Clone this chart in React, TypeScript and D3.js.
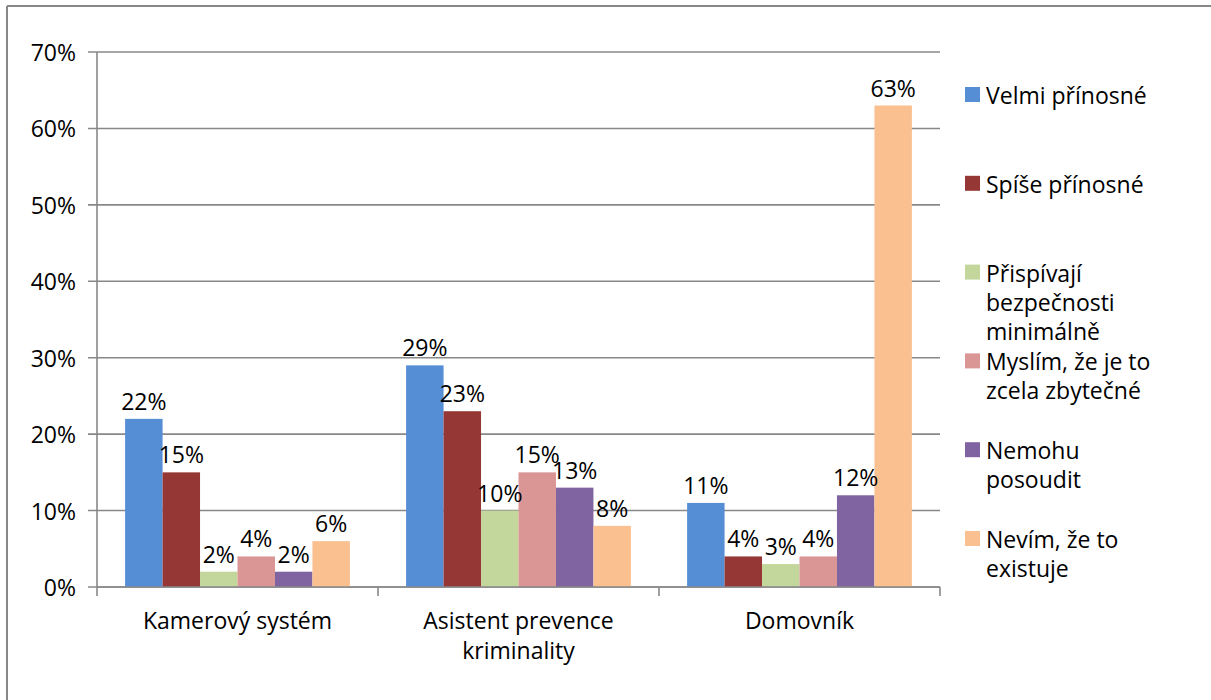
import React from 'react'
import { scaleBand, scaleLinear, scalePoint, format } from 'd3'

// chart data
const categories = ['Kamerový systém', 'Asistent prevence kriminality', 'Domovník']
const seriesNames = [
  'Velmi přínosné',
  'Spíše přínosné',
  'Přispívají bezpečnosti minimálně',
  'Myslím, že je to zcela zbytečné',
  'Nemohu posoudit',
  'Nevím, že to existuje',
]
const velmiPrinosne = [0.22, 0.29, 0.11]
const spisePrinosne = [0.15, 0.23, 0.04]
const minimalne = [0.02, 0.1, 0.03]
const zbytecne = [0.04, 0.15, 0.04]
const nemohuPosoudit = [0.02, 0.13, 0.12]
const nevim = [0.06, 0.08, 0.63]
const seriesValues = [velmiPrinosne, spisePrinosne, minimalne, zbytecne, nemohuPosoudit, nevim]
const seriesColors = ['#558ED5', '#953735', '#C3D69B', '#D99694', '#8064A2', '#FAC090']
const yTicks = [0, 0.1, 0.2, 0.3, 0.4, 0.5, 0.6, 0.7]

const FONT = '"Open Sans", sans-serif'
const FS = 23
const GRID = '#888888'

let ctx: CanvasRenderingContext2D | null = null
function textWidth(s: string): number {
  if (!ctx) ctx = document.createElement('canvas').getContext('2d')
  if (!ctx) return s.length * FS * 0.55
  ctx.font = `${FS}px "Open Sans"`
  return ctx.measureText(s).width
}

function wrap(s: string, maxW: number): string[] {
  const words = s.split(' ')
  const lines: string[] = []
  let cur = ''
  words.forEach((w) => {
    const t = cur ? cur + ' ' + w : w
    if (cur && textWidth(t) > maxW) {
      lines.push(cur)
      cur = w
    } else cur = t
  })
  if (cur) lines.push(cur)
  return lines
}

export default function App(): JSX.Element {
  const W = 1211
  const H = 700
  const left = 97
  const right = 940
  const top = 52
  const bottom = 587

  const x = scaleBand<string>().domain(categories).range([left, right])
  const xs = scaleBand<string>().domain(seriesNames).range([0, x.bandwidth()]).paddingOuter(0.75)
  const y = scaleLinear().domain([0, 0.7]).range([bottom, top])
  const pct = format('.0%')
  const legendY = scalePoint<string>().domain(seriesNames).range([95, 539])

  return (
    <div style={{ position: 'absolute', left: 0, top: 0 }}>
      <svg width={W} height={H} xmlns="http://www.w3.org/2000/svg" style={{ display: 'block', background: '#fff' }}>
        {/* outer chart frame */}
        <line x1={7} x2={W + 5} y1={6} y2={6} stroke={GRID} strokeWidth={2} />
        <line x1={7} x2={7} y1={6} y2={H + 5} stroke={GRID} strokeWidth={2} />

        {/* gridlines + y ticks */}
        <g className="y-axis">
          {yTicks.map((t) => (
            <g key={t}>
              <line x1={left - 9} x2={right} y1={y(t)} y2={y(t)} stroke={GRID} strokeWidth={1.6} />
              <text
                x={76}
                y={y(t)}
                textAnchor="end"
                dominantBaseline="central"
                fontFamily={FONT}
                fontSize={FS}
                fill="#000"
              >
                {pct(t)}
              </text>
            </g>
          ))}
          <line x1={left} x2={left} y1={top} y2={bottom} stroke={GRID} strokeWidth={1.6} />
        </g>

        {/* bars */}
        <g className="bars">
          {seriesValues.map((vals, si) =>
            vals.map((v, ci) => {
              const bx = (x(categories[ci]) ?? 0) + (xs(seriesNames[si]) ?? 0)
              return (
                <rect
                  key={`${si}-${ci}`}
                  x={bx}
                  y={y(v)}
                  width={xs.bandwidth()}
                  height={bottom - y(v)}
                  fill={seriesColors[si]}
                />
              )
            })
          )}
        </g>

        {/* data labels */}
        <g className="labels">
          {seriesValues.map((vals, si) =>
            vals.map((v, ci) => {
              const cx = (x(categories[ci]) ?? 0) + (xs(seriesNames[si]) ?? 0) + xs.bandwidth() / 2
              return (
                <text
                  key={`${si}-${ci}`}
                  x={cx}
                  y={y(v) - 18}
                  textAnchor="middle"
                  dominantBaseline="central"
                  fontFamily={FONT}
                  fontSize={FS}
                  fill="#000"
                >
                  {pct(v)}
                </text>
              )
            })
          )}
        </g>

        {/* x axis */}
        <g className="x-axis">
          <line x1={left} x2={right} y1={bottom} y2={bottom} stroke={GRID} strokeWidth={1.6} />
          {[...categories.map((c) => x(c) ?? 0), right].map((tx, i) => (
            <line key={i} x1={tx} x2={tx} y1={bottom} y2={bottom + 9} stroke={GRID} strokeWidth={1.6} />
          ))}
          {categories.map((c) => {
            const lines = wrap(c, x.bandwidth() - 60)
            return (
              <text
                key={c}
                x={(x(c) ?? 0) + x.bandwidth() / 2}
                y={620}
                textAnchor="middle"
                dominantBaseline="central"
                fontFamily={FONT}
                fontSize={FS}
                fill="#000"
              >
                {lines.map((l, i) => (
                  <tspan key={i} x={(x(c) ?? 0) + x.bandwidth() / 2} dy={i === 0 ? 0 : 30}>
                    {l}
                  </tspan>
                ))}
              </text>
            )
          })}
        </g>

        {/* legend */}
        <g className="legend">
          {seriesNames.map((s, i) => {
            const ly = legendY(s) ?? 0
            const lines = wrap(s, 180)
            return (
              <g key={s}>
                <rect x={965} y={ly - 8} width={15} height={15} fill={seriesColors[i]} />
                <text x={986} y={ly} dominantBaseline="central" fontFamily={FONT} fontSize={FS} fill="#000">
                  {lines.map((l, j) => (
                    <tspan key={j} x={986} dy={j === 0 ? 0 : 29}>
                      {l}
                    </tspan>
                  ))}
                </text>
              </g>
            )
          })}
        </g>
      </svg>
    </div>
  )
}
